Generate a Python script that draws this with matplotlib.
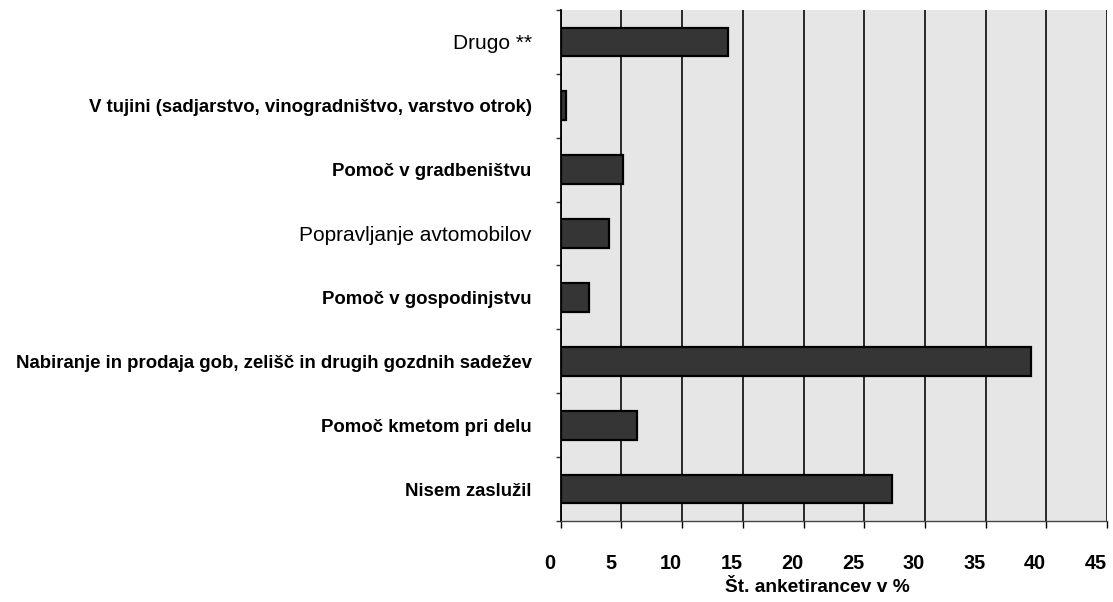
import numpy as np
import matplotlib
matplotlib.use('Agg')
import matplotlib.pyplot as plt
import matplotlib.transforms as mtransforms
from matplotlib.ticker import FixedLocator

# ── Data ─────────────────────────────────────────────────────
categories = [
    "Drugo **",
    "V tujini (sadjarstvo, vinogradništvo, varstvo otrok)",
    "Pomoč v gradbeništvu",
    "Popravljanje avtomobilov",
    "Pomoč v gospodinjstvu",
    "Nabiranje in prodaja gob, zelišč in drugih gozdnih sadežev",
    "Pomoč kmetom pri delu",
    "Nisem zaslužil",
]
values = [13.8, 0.4, 5.1, 4.0, 2.3, 38.7, 6.3, 27.3]
label_weights = ['normal', 'bold', 'bold', 'normal', 'bold', 'bold', 'bold', 'bold']
x_ticks = [0, 5, 10, 15, 20, 25, 30, 35, 40, 45]
x_label = "Št. anketirancev v %"

plt.rcParams['font.family'] = ['Liberation Sans', 'DejaVu Sans']

fig = plt.figure(figsize=(11.13, 6.02), dpi=100)
ax = fig.add_axes([0.5038, 0.1346, 0.4908, 0.8488])
ax.set_facecolor('#e6e6e6')

ypos = np.arange(len(categories))
ax.barh(ypos, values, height=0.45, color='#353535',
        edgecolor='black', linewidth=1.6, zorder=3)

ax.set_xlim(0, 45)
ax.set_ylim(len(categories) - 0.5, -0.5)

# vertical grid lines
ax.xaxis.set_major_locator(FixedLocator(x_ticks))
ax.grid(axis='x', color='#1a1a1a', linewidth=1.3, zorder=1)
ax.set_axisbelow(True)

# y: labels at centres, separator ticks between categories
ax.set_yticks(ypos)
ax.set_yticklabels(categories)
for lab, w in zip(ax.get_yticklabels(), label_weights):
    lab.set_fontweight(w)
    lab.set_fontsize(13.45 if w == 'bold' else 15)
ax.tick_params(axis='y', which='major', length=0, pad=21)
ax.yaxis.set_minor_locator(FixedLocator(np.arange(-0.5, len(categories), 1)))
ax.tick_params(axis='y', which='minor', length=3.5, width=1, color='#333')

# x: numbers sit a little left of their grid lines in the original
ax.tick_params(axis='x', length=5, width=1, pad=19, labelsize=14.3)
shift = mtransforms.ScaledTranslation(-11 / 100, 0, fig.dpi_scale_trans)
for lab in ax.get_xticklabels():
    lab.set_fontweight('bold')
    lab.set_transform(lab.get_transform() + shift)

ax.set_xlabel(x_label, fontsize=13.8, fontweight='bold', va='top')
ax.xaxis.set_label_coords(0.4706, -0.113)

for s in ['top', 'right']:
    ax.spines[s].set_visible(False)
ax.spines['left'].set_linewidth(1.3)
ax.spines['bottom'].set_linewidth(1.0)
ax.spines['bottom'].set_color('#444')

fig.savefig('out.png', dpi=100, facecolor='white')
